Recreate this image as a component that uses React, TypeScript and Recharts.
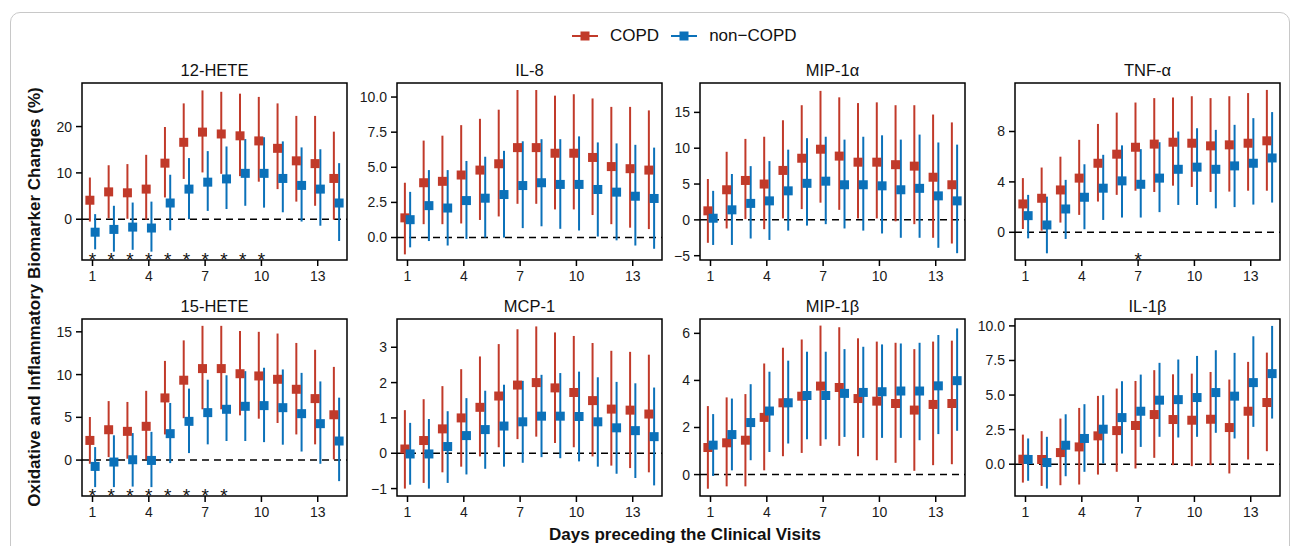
import React from 'react';
import {
    ComposedChart,
    Scatter,
    XAxis,
    YAxis,
    ErrorBar,
    ReferenceLine,
    ReferenceArea,
} from 'recharts';

const DAYS = [1, 2, 3, 4, 5, 6, 7, 8, 9, 10, 11, 12, 13, 14];
const X_TICKS = [1, 4, 7, 10, 13];

// each row: [mean, lower, upper] for days 1..14
const hete12Copd = [[4.1, -0.5, 9.0], [5.9, 0.2, 11.65], [5.7, 0.1, 11.9], [6.5, -0.1, 13.9], [12.1, 4.7, 19.9], [16.6, 8.7, 25.0], [18.8, 10.1, 27.8], [18.4, 9.8, 27.5], [18.0, 9.3, 27.1], [16.9, 8.1, 26.4], [15.3, 6.5, 25.0], [12.6, 3.8, 22.3], [12.0, 2.9, 22.3], [8.8, -0.1, 18.9]];
const hete12Non = [[-2.8, -6.5, 1.1], [-2.2, -7.0, 2.9], [-1.7, -6.6, 3.6], [-1.9, -7.0, 3.8], [3.5, -2.4, 9.6], [6.5, 0.0, 13.2], [8.0, 1.8, 14.7], [8.7, 2.2, 15.7], [9.9, 2.9, 17.3], [9.9, 2.5, 17.7], [8.8, 1.5, 16.8], [7.3, -0.5, 15.5], [6.5, -1.4, 15.1], [3.5, -4.7, 12.1]];
const hete12Stars = [1, 2, 3, 4, 5, 6, 7, 8, 9, 10];

const il8Copd = [[1.4, -1.2, 3.9], [3.9, 0.95, 6.9], [4.0, 0.95, 7.25], [4.45, 1.0, 8.0], [4.8, 1.25, 8.45], [5.25, 1.5, 9.1], [6.4, 2.4, 10.5], [6.4, 2.4, 10.5], [6.0, 2.0, 10.1], [6.0, 2.0, 10.2], [5.7, 1.6, 9.9], [5.05, 0.95, 9.3], [4.9, 0.7, 9.3], [4.8, 0.6, 9.05]];
const il8Non = [[1.27, -0.7, 3.25], [2.27, -0.25, 4.8], [2.1, -0.57, 4.8], [2.63, -0.1, 5.45], [2.8, 0.0, 5.75], [3.06, 0.0, 6.17], [3.7, 0.67, 6.85], [3.9, 0.8, 7.0], [3.78, 0.62, 7.0], [3.78, 0.5, 7.2], [3.42, 0.07, 6.77], [3.23, -0.2, 6.7], [2.94, -0.57, 6.6], [2.78, -0.8, 6.4]];

const mip1aCopd = [[1.26, -3.2, 5.7], [4.2, -1.2, 9.5], [5.5, 0.1, 11.3], [5.0, -1.3, 11.6], [6.9, 0.2, 13.9], [8.6, 1.5, 16.0], [9.86, 2.4, 18.0], [8.9, 1.4, 17.1], [8.05, 0.2, 16.3], [8.05, 0.2, 16.4], [7.7, -0.2, 16.0], [7.5, -0.6, 16.0], [5.95, -2.5, 14.7], [4.9, -3.3, 13.6]];
const mip1aNon = [[0.23, -3.5, 4.05], [1.4, -3.5, 6.4], [2.3, -2.6, 7.5], [2.65, -2.8, 8.2], [4.05, -1.5, 9.8], [5.1, -0.8, 11.4], [5.4, -0.6, 11.6], [4.9, -1.2, 11.2], [4.9, -1.5, 11.6], [4.75, -1.9, 11.8], [4.2, -2.5, 11.2], [4.4, -2.5, 11.9], [3.35, -3.9, 10.8], [2.65, -4.65, 10.5]];

const tnfCopd = [[2.25, 0.26, 4.3], [2.7, 0.13, 5.14], [3.36, 0.77, 6.0], [4.3, 1.38, 7.34], [5.48, 2.44, 8.6], [6.2, 2.97, 9.5], [6.75, 3.3, 10.3], [7.0, 3.2, 10.65], [7.15, 3.7, 10.7], [7.07, 3.6, 10.8], [6.86, 3.2, 10.65], [6.94, 3.23, 10.8], [7.07, 3.3, 11.05], [7.26, 3.3, 11.3]];
const tnfNon = [[1.32, -0.48, 2.97], [0.58, -1.67, 2.83], [1.85, -0.53, 4.16], [2.78, 0.24, 5.4], [3.5, 0.98, 6.15], [4.08, 1.17, 6.9], [3.81, 1.17, 6.6], [4.3, 1.6, 7.15], [5.0, 2.17, 8.0], [5.17, 2.17, 8.26], [5.0, 1.9, 8.13], [5.27, 2.0, 8.53], [5.48, 2.2, 9.06], [5.9, 2.36, 9.54]];
const tnfStars = [7];

const hete15Copd = [[2.3, -0.43, 5.04], [3.55, 0.35, 6.9], [3.36, 0.16, 6.8], [3.95, 0.08, 8.1], [7.27, 3.0, 11.6], [9.34, 4.9, 14.0], [10.7, 5.94, 15.7], [10.7, 5.94, 15.7], [10.1, 5.23, 15.1], [9.84, 4.84, 15.0], [9.45, 4.34, 14.8], [8.28, 3.0, 13.7], [7.19, 1.84, 12.9], [5.3, 0.08, 10.9]];
const hete15Non = [[-0.74, -3.16, 1.52], [-0.23, -3.16, 2.9], [0.04, -3.1, 3.16], [-0.04, -3.16, 3.3], [3.09, -0.35, 6.68], [4.53, 0.82, 8.36], [5.55, 1.84, 9.4], [5.94, 2.23, 9.92], [6.29, 2.23, 10.4], [6.37, 2.1, 10.8], [6.13, 1.8, 10.6], [5.43, 1.0, 10.2], [4.26, -0.43, 9.2], [2.23, -2.46, 7.3]];
const hete15Stars = [1, 2, 3, 4, 5, 6, 7, 8];

const mcp1Copd = [[0.12, -1.0, 1.22], [0.36, -0.84, 1.53], [0.69, -0.54, 1.9], [1.0, -0.38, 2.38], [1.3, -0.09, 2.74], [1.62, 0.17, 3.09], [1.93, 0.4, 3.51], [2.0, 0.47, 3.59], [1.85, 0.29, 3.42], [1.72, 0.17, 3.32], [1.49, -0.09, 3.12], [1.25, -0.35, 2.9], [1.22, -0.42, 2.87], [1.11, -0.54, 2.79]];
const mcp1Non = [[-0.02, -0.89, 0.86], [-0.02, -1.0, 0.97], [0.19, -0.84, 1.19], [0.5, -0.6, 1.56], [0.67, -0.44, 1.77], [0.77, -0.38, 1.94], [0.89, -0.27, 2.05], [1.05, -0.11, 2.22], [1.05, -0.14, 2.27], [1.04, -0.23, 2.31], [0.89, -0.38, 2.15], [0.72, -0.58, 2.02], [0.64, -0.7, 1.98], [0.47, -0.91, 1.86]];

const mip1bCopd = [[1.15, -0.6, 2.91], [1.35, -0.5, 3.28], [1.46, -0.5, 3.42], [2.43, 0.18, 4.72], [3.05, 0.78, 5.39], [3.33, 0.92, 5.74], [3.76, 1.22, 6.33], [3.7, 1.22, 6.26], [3.23, 0.78, 5.79], [3.12, 0.61, 5.65], [3.02, 0.5, 5.6], [2.74, 0.16, 5.33], [2.98, 0.4, 5.65], [3.02, 0.44, 5.69]];
const mip1bNon = [[1.25, -0.06, 2.57], [1.7, 0.18, 3.23], [2.21, 0.61, 3.84], [2.7, 0.96, 4.37], [3.05, 1.32, 4.84], [3.36, 1.5, 5.22], [3.36, 1.5, 5.22], [3.45, 1.6, 5.33], [3.49, 1.56, 5.43], [3.52, 1.56, 5.53], [3.55, 1.56, 5.57], [3.55, 1.46, 5.6], [3.77, 1.72, 5.93], [3.99, 1.86, 6.21]];

const il1bCopd = [[0.36, -1.33, 2.14], [0.34, -1.57, 2.39], [0.84, -1.52, 3.3], [1.25, -1.47, 4.07], [2.05, -0.75, 4.94], [2.43, -0.55, 5.47], [2.8, -0.31, 6.02], [3.59, 0.46, 6.8], [3.23, -0.07, 6.5], [3.18, -0.14, 6.55], [3.25, -0.07, 6.67], [2.65, -0.67, 6.12], [3.83, 0.34, 7.4], [4.46, 0.94, 8.07]];
const il1bNon = [[0.34, -1.2, 1.86], [0.12, -1.76, 1.98], [1.37, -0.87, 3.61], [1.86, -0.55, 4.34], [2.53, 0.05, 4.99], [3.37, 0.77, 6.0], [3.83, 1.25, 6.48], [4.63, 1.98, 7.33], [4.67, 1.93, 7.57], [4.82, 1.98, 7.83], [5.18, 2.27, 8.24], [4.92, 1.86, 8.05], [5.9, 2.7, 9.25], [6.55, 3.3, 10.0]];

const RED = '#c13a2a';
const BLUE = '#0b71b9';
const FONT = "'Liberation Sans', Arial, Helvetica, sans-serif";
const X_DOMAIN = [0.44, 14.56];
const DODGE = 0.14;
const YW = 62;
const XH = 34;
const PAD = 4;

const ROW1 = 83;
const ROW2 = 319;
const COLS = [82, 397, 700, 1015];
const PW = 265;
const PH = 177;

const PANELS = [
    { title: '12-HETE', x: COLS[0], y: ROW1, dom: [-8.8, 29.4], ticks: [0, 10, 20], dec: 0, copd: hete12Copd, non: hete12Non, stars: hete12Stars },
    { title: 'IL-8', x: COLS[1], y: ROW1, dom: [-1.6, 11.0], ticks: [0, 2.5, 5, 7.5, 10], dec: 1, copd: il8Copd, non: il8Non, stars: [] },
    { title: 'MIP-1\u03b1', x: COLS[2], y: ROW1, dom: [-5.6, 19.1], ticks: [-5, 0, 5, 10, 15], dec: 0, copd: mip1aCopd, non: mip1aNon, stars: [] },
    { title: 'TNF-\u03b1', x: COLS[3], y: ROW1, dom: [-2.2, 11.85], ticks: [0, 4, 8], dec: 0, copd: tnfCopd, non: tnfNon, stars: tnfStars },
    { title: '15-HETE', x: COLS[0], y: ROW2, dom: [-4.2, 16.5], ticks: [0, 5, 10, 15], dec: 0, copd: hete15Copd, non: hete15Non, stars: hete15Stars },
    { title: 'MCP-1', x: COLS[1], y: ROW2, dom: [-1.21, 3.8], ticks: [-1, 0, 1, 2, 3], dec: 0, copd: mcp1Copd, non: mcp1Non, stars: [] },
    { title: 'MIP-1\u03b2', x: COLS[2], y: ROW2, dom: [-0.91, 6.61], ticks: [0, 2, 4, 6], dec: 0, copd: mip1bCopd, non: mip1bNon, stars: [] },
    { title: 'IL-1\u03b2', x: COLS[3], y: ROW2, dom: [-2.3, 10.5], ticks: [0, 2.5, 5, 7.5, 10], dec: 1, copd: il1bCopd, non: il1bNon, stars: [] },
];

const toPoints = (rows: number[][], off: number) =>
    rows.map((r, i) => ({ x: DAYS[i] + off, y: r[0], err: [r[0] - r[1], r[2] - r[0]] }));

const squareShape = (color: string) => (props: any) => (
    <rect x={props.cx - 4.5} y={props.cy - 4.5} width={9} height={9} fill={color} />
);

const starShape = (props: any) => (
    <text x={props.cx} y={props.cy + 11} textAnchor="middle" fontSize={19} fill="#111">*</text>
);

function Panel({ p }: { p: any }) {
    const copdData = toPoints(p.copd, -DODGE);
    const nonData = toPoints(p.non, DODGE);
    const starY = p.dom[0] + ((p.dom[1] - p.dom[0]) * 5.5) / PH;
    const starData = p.stars.map((d: number) => ({ x: d, y: starY }));
    const fmt = (v: number) => (p.dec ? v.toFixed(1) : String(v)).replace('-', '\u2212');

    return (
        <>
            <div
                style={{
                    position: 'absolute', left: p.x, top: p.y - 22, width: PW,
                    textAlign: 'center', fontSize: 16.5, color: '#111', lineHeight: '19px',
                }}
            >
                {p.title}
            </div>
            <div style={{ position: 'absolute', left: p.x - YW, top: p.y - PAD }}>
                <ComposedChart
                    width={YW + PW + PAD}
                    height={PAD + PH + XH}
                    margin={{ top: PAD, right: PAD, bottom: 0, left: 0 }}
                >
                    <XAxis
                        type="number"
                        dataKey="x"
                        domain={X_DOMAIN}
                        ticks={X_TICKS}
                        interval={0}
                        allowDataOverflow
                        height={XH}
                        axisLine={false}
                        tickSize={6}
                        tickMargin={5}
                        tickLine={{ stroke: '#000', strokeWidth: 1.5 }}
                        tick={{ fill: '#1a1a1a', fontSize: 14 }}
                    />
                    <YAxis
                        type="number"
                        dataKey="y"
                        domain={p.dom}
                        ticks={p.ticks}
                        interval={0}
                        allowDataOverflow
                        width={YW}
                        axisLine={false}
                        tickSize={6}
                        tickMargin={4}
                        tickFormatter={fmt}
                        tickLine={{ stroke: '#000', strokeWidth: 1.5 }}
                        tick={{ fill: '#1a1a1a', fontSize: 14 }}
                    />
                    <ReferenceLine y={0} stroke="#000" strokeWidth={1.5} strokeDasharray="7 5" />
                    <Scatter data={copdData} shape={squareShape(RED)} isAnimationActive={false}>
                        <ErrorBar dataKey="err" direction="y" width={0} stroke={RED} strokeWidth={2} />
                    </Scatter>
                    <Scatter data={nonData} shape={squareShape(BLUE)} isAnimationActive={false}>
                        <ErrorBar dataKey="err" direction="y" width={0} stroke={BLUE} strokeWidth={2} />
                    </Scatter>
                    <Scatter data={starData} shape={starShape} isAnimationActive={false} />
                    <ReferenceArea
                        x1={X_DOMAIN[0]}
                        x2={X_DOMAIN[1]}
                        y1={p.dom[0]}
                        y2={p.dom[1]}
                        fill="none"
                        fillOpacity={0}
                        stroke="#000"
                        strokeWidth={1.5}
                    />
                </ComposedChart>
            </div>
        </>
    );
}

function LegendKey({ color, label }: { color: string; label: string }) {
    return (
        <div style={{ display: 'flex', alignItems: 'center', marginRight: 12 }}>
            <svg width={26} height={12} style={{ marginRight: 12 }}>
                <line x1={0} y1={6} x2={26} y2={6} stroke={color} strokeWidth={2} />
                <rect x={8.5} y={1.5} width={9} height={9} fill={color} />
            </svg>
            <span>{label}</span>
        </div>
    );
}

export default function App() {
    return (
        <div
            style={{
                position: 'absolute', left: 0, top: 0, width: 1295, height: 546,
                overflow: 'hidden', background: '#fff', fontFamily: FONT, color: '#111',
            }}
        >
            <div
                style={{
                    position: 'absolute', left: 10, top: 12, width: 1278, height: 600,
                    border: '1px solid #c8c8c8', borderRadius: 10,
                }}
            />
            <div
                style={{
                    position: 'absolute', left: 572, top: 26, height: 20,
                    display: 'flex', alignItems: 'center', fontSize: 17,
                }}
            >
                <LegendKey color={RED} label="COPD" />
                <LegendKey color={BLUE} label={'non\u2212COPD'} />
            </div>
            {PANELS.map((p) => (
                <Panel key={p.title} p={p} />
            ))}
            <div
                style={{
                    position: 'absolute', left: 35 - 250, top: 297 - 11, width: 500, height: 22,
                    transform: 'rotate(-90deg)', textAlign: 'center',
                    fontSize: 17, fontWeight: 'bold', lineHeight: '22px', whiteSpace: 'nowrap',
                }}
            >
                Oxidative and Inflammatory Biomarker Changes (%)
            </div>
            <div
                style={{
                    position: 'absolute', left: 685 - 200, top: 525, width: 400,
                    textAlign: 'center', fontSize: 17, fontWeight: 'bold', lineHeight: '20px',
                }}
            >
                Days preceding the Clinical Visits
            </div>
        </div>
    );
}
